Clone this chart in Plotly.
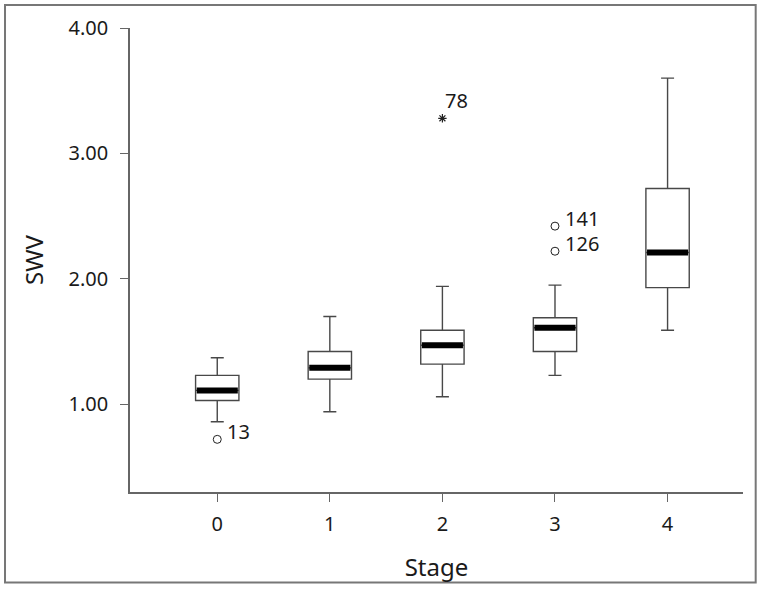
import plotly.graph_objects as go

stages = [0, 1, 2, 3, 4]
stage_labels = ["0", "1", "2", "3", "4"]
lower_whisker = [0.86, 0.94, 1.06, 1.23, 1.59]
q1 = [1.03, 1.20, 1.32, 1.42, 1.93]
median = [1.11, 1.29, 1.47, 1.61, 2.21]
q3 = [1.23, 1.42, 1.59, 1.69, 2.72]
upper_whisker = [1.37, 1.70, 1.94, 1.95, 3.60]

outlier_x = [0, 3, 3]
outlier_y = [0.72, 2.42, 2.22]
outlier_ids = ["13", "141", "126"]
extreme_x = [2]
extreme_y = [3.28]
extreme_ids = ["78"]

yticks = [1, 2, 3, 4]
BOX_W = 0.385
FONT = "Noto Sans"
TXT = "#1a1a1a"

fig = go.Figure()
fig.add_trace(go.Box(
    x=stages, q1=q1, median=median, q3=q3,
    lowerfence=lower_whisker, upperfence=upper_whisker,
    width=BOX_W, whiskerwidth=0.3, boxpoints=False,
    fillcolor="white", line=dict(color="#484848", width=1.4),
    showlegend=False, hoverinfo="skip"))

# thick medians
mx, my = [], []
for s, m in zip(stages, median):
    mx += [s - BOX_W / 2 + 0.01, s + BOX_W / 2 - 0.01, None]
    my += [m, m, None]
fig.add_trace(go.Scatter(x=mx, y=my, mode="lines",
                         line=dict(color="black", width=6), showlegend=False))

fig.add_trace(go.Scatter(x=outlier_x, y=outlier_y, mode="markers",
                         marker=dict(symbol="circle-open", size=8, color="#222222",
                                     line=dict(width=1)), showlegend=False))
fig.add_trace(go.Scatter(x=extreme_x, y=extreme_y, mode="markers",
                         marker=dict(symbol="asterisk-open", size=7, color="#222222",
                                     line=dict(width=1.2)), showlegend=False))

for x, y, t in zip(outlier_x, outlier_y, outlier_ids):
    fig.add_annotation(x=x, y=y, text=t, showarrow=False, xanchor="left",
                       yanchor="middle", xshift=8, yshift=8,
                       font=dict(family=FONT, size=20, color=TXT))
for x, y, t in zip(extreme_x, extreme_y, extreme_ids):
    fig.add_annotation(x=x, y=y, text=t, showarrow=False, xanchor="left",
                       yanchor="middle", xshift=1, yshift=18,
                       font=dict(family=FONT, size=20, color=TXT))

# outer frame
fig.add_shape(type="rect", xref="paper", yref="paper",
              x0=-0.2039, x1=1.0207, y0=-0.1953, y1=1.0495,
              line=dict(color="#777777", width=2), layer="below")

fig.update_layout(
    width=761, height=589,
    margin=dict(l=130, r=18, t=28, b=97),
    plot_bgcolor="white", paper_bgcolor="white",
    font=dict(family=FONT, size=20, color=TXT),
)
fig.update_xaxes(range=[-0.775, 4.67], tickvals=stages, ticktext=stage_labels,
                 showline=True, linecolor="#666666", linewidth=1.5,
                 ticks="outside", ticklen=8, tickcolor="#666666", showgrid=False,
                 zeroline=False, ticklabelstandoff=5,
                 title=dict(text="Stage", standoff=23))
fig.update_yaxes(range=[0.3, 4.0], tickvals=yticks, tickformat=".2f",
                 showline=True, linecolor="#666666", linewidth=1.5,
                 ticks="outside", ticklen=8, tickcolor="#666666", showgrid=False,
                 zeroline=False, ticklabelstandoff=8,
                 title=dict(text="SWV", standoff=18))

fig.write_html("out.html", config={"displayModeBar": False},
               post_script="document.body.style.margin='0';document.body.style.overflow='hidden';")
